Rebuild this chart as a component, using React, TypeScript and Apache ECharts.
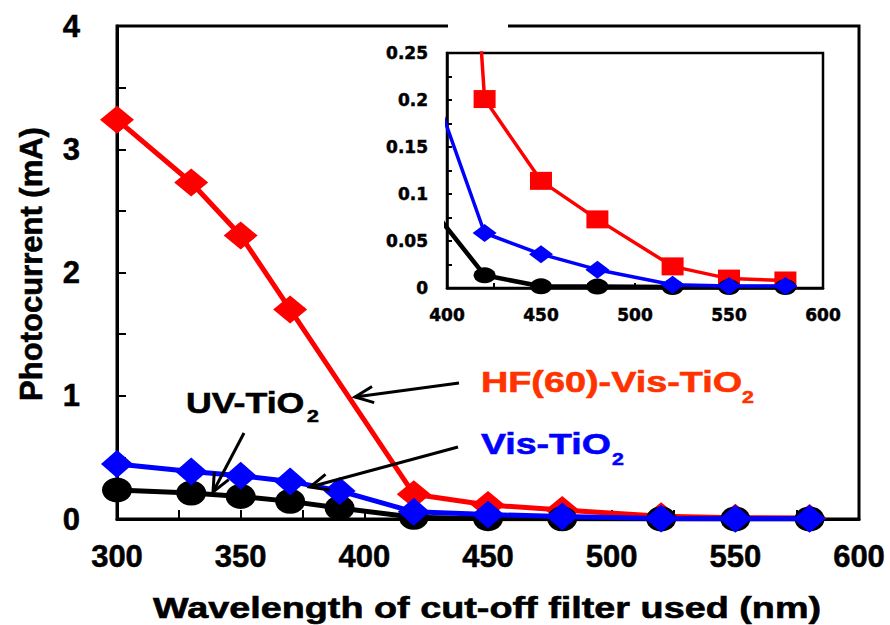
import React, { useEffect, useRef } from "react";
import * as echarts from "echarts";

// Cut-off filter wavelengths (nm) at which the photocurrent was recorded
const wavelengths = [300, 330, 350, 370, 390, 420, 450, 480, 520, 550, 580];
// HF(60)-Vis-TiO2 was not measured with the 390 nm filter
const hfWavelengths = [300, 330, 350, 370, 420, 450, 480, 520, 550, 580];

// Photocurrent (mA)
const hfVisCurrent = [3.24, 2.73, 2.3, 1.7, 0.201, 0.114, 0.073, 0.023, 0.01, 0.008];
const visCurrent = [0.446, 0.386, 0.35, 0.305, 0.228, 0.0585, 0.036, 0.0195, 0.0035, 0.002, 0.002];
const uvCurrent = [0.235, 0.21, 0.183, 0.143, 0.089, 0.0135, 0.0018, 0.0015, 0.001, 0.001, 0.001];

// Axis ticks
const mainXTicks = [300, 350, 400, 450, 500, 550, 600];
const mainYTicks = [0, 1, 2, 3, 4];
const insetXTicks = [400, 450, 500, 550, 600];
const insetYTicks = [0, 0.05, 0.1, 0.15, 0.2, 0.25];

const RED = "#ff0000";
const BLUE = "#0000ff";
const BLACK = "#000000";
const LABEL_RED = "#ff3300";
const FONT = '"Liberation Sans", Arial, Helvetica, sans-serif';

const zip = (xs: number[], ys: number[]) => xs.map((x, i) => [x, ys[i]]);

const range = (ticks: number[]) => ({
  min: ticks[0],
  max: ticks[ticks.length - 1],
  interval: ticks[1] - ticks[0],
});

function axisCommon(ticks: number[], opts: any) {
  return {
    type: "value",
    ...range(ticks),
    splitLine: { show: false },
    axisLine: { show: true, onZero: false, lineStyle: { color: BLACK, width: opts.lineWidth } },
    axisTick: { show: true, inside: true, length: opts.tickLen, lineStyle: { color: BLACK, width: 2 } },
    minorTick: { show: true, splitNumber: 2, length: opts.tickLen, lineStyle: { color: BLACK, width: 2 } },
    axisLabel: {
      color: BLACK,
      fontWeight: "bold",
      fontFamily: opts.fontFamily,
      fontSize: opts.fontSize,
      margin: opts.margin,
      textBorderColor: BLACK,
      textBorderWidth: 0.5,
    },
  };
}

// Open arrow: shaft from (x1, y1) to the tip at (x2, y2)
function arrow(x1: number, y1: number, x2: number, y2: number) {
  const len = 20;
  const ang = (24 * Math.PI) / 180;
  const dx = x1 - x2;
  const dy = y1 - y2;
  const d = Math.hypot(dx, dy);
  const ux = dx / d;
  const uy = dy / d;
  const arm = (s: number) => [
    x2 + len * (ux * Math.cos(s * ang) - uy * Math.sin(s * ang)),
    y2 + len * (ux * Math.sin(s * ang) + uy * Math.cos(s * ang)),
  ];
  const stroke = { stroke: BLACK, lineWidth: 3, fill: null };
  return [
    { type: "line", shape: { x1, y1, x2, y2 }, style: stroke, z: 100 },
    { type: "polyline", shape: { points: [arm(1), [x2, y2], arm(-1)] }, style: stroke, z: 100 },
  ];
}

function label(text: string, x: number, y: number, color: string, size: number, scaleX: number, extra: any = {}) {
  return {
    type: "text",
    x,
    y,
    scaleX,
    z: 100,
    rotation: extra.rotation || 0,
    style: {
      text,
      fill: color,
      stroke: color,
      lineWidth: 0.6,
      fontSize: size,
      fontWeight: "bold",
      fontFamily: FONT,
      align: extra.align || "left",
      verticalAlign: "middle",
    },
  };
}

export default function App() {
  const ref = useRef<HTMLDivElement>(null);

  useEffect(() => {
    if (!ref.current) return;
    const chart = echarts.init(ref.current, null, { renderer: "svg" });

    const mainAxisOpts = { lineWidth: 3, tickLen: 9, fontFamily: FONT, fontSize: 31, margin: 22 };
    const insetAxisOpts = { lineWidth: 2.5, tickLen: 5, fontFamily: '"DejaVu Sans", sans-serif', fontSize: 17, margin: 18 };

    const seriesFor = (axis: number, inset: boolean) => {
      const lw = inset ? 3.5 : 5;
      return [
        {
          name: "HF(60)-Vis-TiO2",
          type: "line",
          xAxisIndex: axis,
          yAxisIndex: axis,
          data: zip(hfWavelengths, hfVisCurrent),
          symbol: inset ? "rect" : "diamond",
          symbolSize: inset ? [22, 18] : [34, 28],
          itemStyle: { color: RED },
          lineStyle: { color: RED, width: lw },
          clip: true,
          z: 2,
        },
        {
          name: "UV-TiO2",
          type: "line",
          xAxisIndex: axis,
          yAxisIndex: axis,
          data: zip(wavelengths, uvCurrent),
          symbol: "circle",
          symbolSize: inset ? [22, 16] : [30, 25],
          itemStyle: { color: BLACK },
          lineStyle: { color: BLACK, width: inset ? 4.5 : 5 },
          clip: true,
          z: 3,
        },
        {
          name: "Vis-TiO2",
          type: "line",
          xAxisIndex: axis,
          yAxisIndex: axis,
          data: zip(wavelengths, visCurrent),
          symbol: "diamond",
          symbolSize: inset ? [24, 18] : [32, 28],
          itemStyle: { color: BLUE },
          lineStyle: { color: BLUE, width: lw },
          clip: true,
          z: 4,
        },
      ];
    };

    chart.setOption({
      animation: false,
      backgroundColor: "#ffffff",
      grid: [
        { left: 117, top: 26, width: 742, height: 493, show: true, borderColor: BLACK, borderWidth: 3, backgroundColor: "transparent" },
        { left: 447, top: 53, width: 376, height: 235, show: true, borderColor: BLACK, borderWidth: 2.5, backgroundColor: "#ffffff", z: 5 },
      ],
      xAxis: [
        { gridIndex: 0, ...axisCommon(mainXTicks, mainAxisOpts) },
        { gridIndex: 1, z: 6, ...axisCommon(insetXTicks, insetAxisOpts) },
      ],
      yAxis: [
        { gridIndex: 0, ...axisCommon(mainYTicks, { ...mainAxisOpts, margin: 37 }) },
        { gridIndex: 1, z: 6, ...axisCommon(insetYTicks, { ...insetAxisOpts, margin: 19 }) },
      ],
      series: [
        ...seriesFor(0, false),
        ...seriesFor(1, true).map((s) => ({ ...s, z: s.z + 10 })),
      ],
      graphic: [
        // break in the frame's top edge above the inset
        { type: "rect", shape: { x: 448, y: 22, width: 60, height: 8 }, style: { fill: "#ffffff" }, z: 50 },
        // axis titles
        label("Photocurrent (mA)", 31, 264, BLACK, 31, 1, { rotation: Math.PI / 2, align: "center" }),
        label("Wavelength of cut-off filter used (nm)", 487, 607, BLACK, 30, 1.26, { align: "center" }),
        // series annotations
        label("UV-TiO", 186, 403, BLACK, 30, 1.19),
        label("2", 307, 416, BLACK, 17, 1.25),
        label("HF(60)-Vis-TiO", 481, 381, LABEL_RED, 30, 1.26),
        label("2", 742, 397, LABEL_RED, 17, 1.25),
        label("Vis-TiO", 481, 443.5, BLUE, 30, 1.25),
        label("2", 612, 459, BLUE, 17, 1.25),
        ...arrow(244, 433, 213, 492),
        ...arrow(459, 383, 355, 397),
        ...arrow(458, 447, 310, 487),
      ],
    });

    return () => chart.dispose();
  }, []);

  return (
    <div
      ref={ref}
      style={{ position: "absolute", left: 0, top: 0, width: 890, height: 625, background: "#fff" }}
    />
  );
}
